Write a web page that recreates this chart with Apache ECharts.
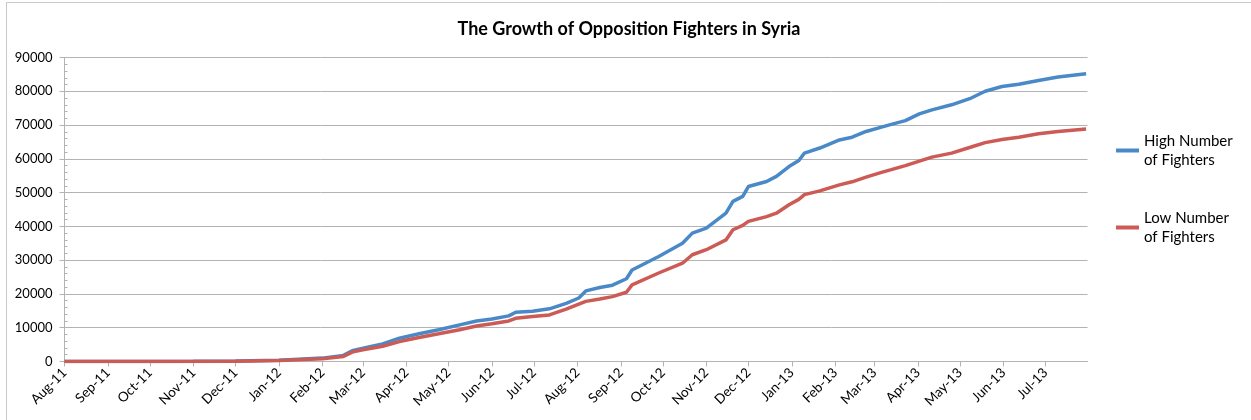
<!DOCTYPE html>
<html>
<head>
<meta charset="utf-8">
<script src="https://cdn.jsdelivr.net/npm/echarts@6/dist/echarts.min.js"></script>
<style>
  html, body { margin: 0; padding: 0; background: #fff; }
  #chart { width: 1251px; height: 420px; }
</style>
</head>
<body>
<div id="chart"></div>
<script>
// cumulative fighter estimates
var dates = [
    '2011-08-01', '2011-09-01', '2011-10-01', '2011-11-01', '2011-12-01',
    '2012-01-01', '2012-02-01', '2012-02-16', '2012-02-23', '2012-03-01',
    '2012-03-15', '2012-03-27', '2012-04-10', '2012-04-24', '2012-05-09',
    '2012-05-21', '2012-06-01', '2012-06-13', '2012-06-18', '2012-06-30',
    '2012-07-12', '2012-07-24', '2012-08-02', '2012-08-07', '2012-08-17',
    '2012-08-26', '2012-09-05', '2012-09-09', '2012-09-28', '2012-10-15',
    '2012-10-22', '2012-11-01', '2012-11-15', '2012-11-20', '2012-11-27',
    '2012-12-01', '2012-12-14', '2012-12-21', '2012-12-30', '2013-01-06',
    '2013-01-10', '2013-01-21', '2013-02-04', '2013-02-13', '2013-02-23',
    '2013-03-06', '2013-03-13', '2013-03-23', '2013-04-02', '2013-04-11',
    '2013-04-25', '2013-05-09', '2013-05-19', '2013-05-31', '2013-06-12',
    '2013-06-26', '2013-07-10', '2013-07-30'
];
var highFighters = [
    0, 0, 0, 50, 150,
    400, 1000, 1800, 3300, 3900,
    5200, 6900, 8200, 9400, 10850,
    12000, 12600, 13500, 14600, 14900,
    15600, 17200, 18800, 20900, 21900,
    22600, 24500, 27100, 31100, 35000,
    38000, 39500, 43900, 47400, 48900,
    51800, 53300, 54800, 57700, 59500,
    61700, 63200, 65600, 66400, 68100,
    69400, 70200, 71300, 73300, 74500,
    76000, 78000, 80000, 81400, 82100,
    83200, 84200, 85200
];
var lowFighters = [
    0, 0, 0, 30, 100,
    300, 800, 1500, 2900, 3500,
    4500, 5900, 7100, 8200, 9400,
    10500, 11200, 12000, 12800, 13300,
    13800, 15500, 17000, 17800, 18500,
    19200, 20500, 22700, 26200, 29100,
    31600, 33100, 36000, 39000, 40300,
    41500, 42900, 43900, 46400, 48000,
    49400, 50500, 52300, 53200, 54600,
    56000, 56800, 58000, 59300, 60500,
    61700, 63500, 64800, 65700, 66400,
    67400, 68100, 68800
];
var seriesNames = ['High Number\nof Fighters', 'Low Number\nof Fighters'];
var seriesColors = ['#4a89c8', '#cc5a55'];

function pairs(values) {
    var out = [];
    for (var i = 0; i < dates.length; i++) {
        out.push([dates[i], values[i]]);
    }
    return out;
}

var font = 'Lato, "Open Sans", sans-serif';
var gray = '#b3b3b3';

var option = {
    animation: false,
    color: seriesColors,
    textStyle: { fontFamily: font },
    graphic: [{
        type: 'rect',
        shape: { x: 6.5, y: 2.5, width: 1400, height: 600 },
        style: { fill: 'none', stroke: '#c8c8c8', lineWidth: 1 },
        silent: true
    }],
    title: {
        text: 'The Growth of Opposition Fighters in Syria',
        left: 629,
        textAlign: 'center',
        top: 20,
        padding: 0,
        textStyle: { fontFamily: font, fontWeight: 'bold', fontSize: 18, color: '#000' }
    },
    legend: {
        orient: 'vertical',
        left: 1111,
        top: 117,
        itemWidth: 23,
        itemHeight: 4,
        itemGap: 20,
        icon: 'rect',
        textStyle: {
            fontFamily: font, fontSize: 15, color: '#000',
            lineHeight: 19, padding: [19, 0, 0, 0]
        },
        data: seriesNames
    },
    grid: { left: 64.5, right: 163.5, top: 57.5, bottom: 58.5, containLabel: false },
    xAxis: {
        type: 'time',
        min: '2011-08-01',
        max: '2013-07-31',
        splitNumber: 24,
        minInterval: 28 * 86400000,
        maxInterval: 31 * 86400000,
        axisLine: { lineStyle: { color: gray } },
        axisTick: { show: true, length: 5, lineStyle: { color: gray } },
        splitLine: { show: false },
        axisLabel: {
            formatter: '{MMM}-{yy}',
            rotate: 45,
            margin: 9,
            fontFamily: font,
            fontSize: 13.5,
            color: '#000',
            showMinLabel: true,
            showMaxLabel: false
        }
    },
    yAxis: [{
        type: 'value',
        min: 0,
        max: 90000,
        interval: 10000,
        axisLine: { show: true, lineStyle: { color: gray } },
        axisTick: { show: true, length: 5, lineStyle: { color: gray } },
        splitLine: { show: true, lineStyle: { color: gray, width: 1 } },
        axisLabel: {
            margin: 12, fontFamily: font, fontSize: 13, color: '#000',
            formatter: function (v) { return String(v); }
        }
    }, {
        // inner minor ticks, as in the original
        type: 'value',
        position: 'left',
        min: 0,
        max: 90000,
        interval: 10000,
        axisLine: { show: false },
        axisTick: { show: false, inside: true },
        minorTick: { show: true, splitNumber: 5, length: 3, lineStyle: { color: gray } },
        splitLine: { show: false },
        axisLabel: { show: false }
    }],
    series: [{
        name: seriesNames[0],
        type: 'line',
        showSymbol: false,
        lineStyle: { width: 3.5 },
        data: pairs(highFighters)
    }, {
        name: seriesNames[1],
        type: 'line',
        showSymbol: false,
        lineStyle: { width: 3.5 },
        data: pairs(lowFighters)
    }]
};

var myChart = echarts.init(document.getElementById('chart'));
myChart.setOption(option);
</script>
</body>
</html>
